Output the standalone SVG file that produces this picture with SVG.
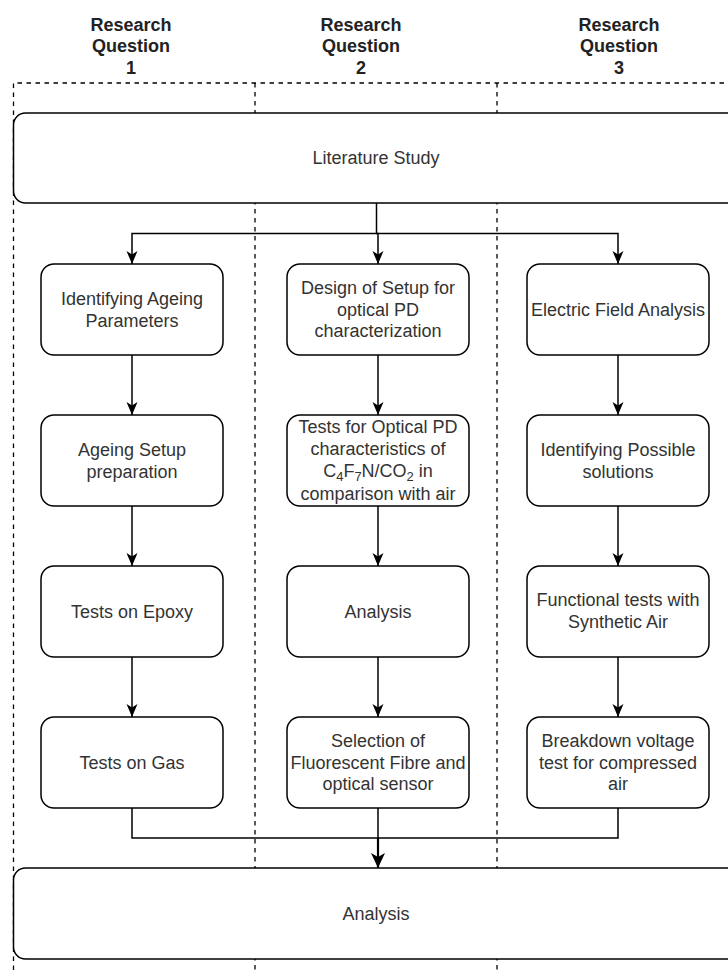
<svg xmlns="http://www.w3.org/2000/svg" width="728" height="970" viewBox="0 0 728 970">
<style>
.lane{fill:none;stroke:#000;stroke-width:1.3;stroke-dasharray:4.5 4.5}
.box{fill:#fff;stroke:#000;stroke-width:1.5}
.t{font-family:"Liberation Sans",Arial,Helvetica,sans-serif;font-size:18px;fill:#333;text-anchor:middle}
.h{font-family:"Liberation Sans",Arial,Helvetica,sans-serif;font-size:18px;font-weight:bold;fill:#222;text-anchor:middle}
.e{fill:none;stroke:#000;stroke-width:1.5}
</style>
<defs>
<marker id="arr" markerUnits="userSpaceOnUse" viewBox="0 -6 14 12" refX="13" refY="0" markerWidth="14" markerHeight="12" orient="auto">
<path d="M0,-5.5 L13,0 L0,5.5 L3.5,0 Z" fill="#000"/>
</marker>
<marker id="arrBig" markerUnits="userSpaceOnUse" viewBox="0 -8 16 16" refX="15" refY="0" markerWidth="16" markerHeight="16" orient="auto">
<path d="M0,-7 L15,0 L0,7 L4,0 Z" fill="#000"/>
</marker>
</defs>
<rect width="728" height="970" fill="#fff"/>
<g id="lanes">
<g id="lane1">
<text class="h" x="131" y="30.5">Research</text>
<text class="h" x="131" y="52">Question</text>
<text class="h" x="131" y="74">1</text>
</g>
<g id="lane2">
<text class="h" x="361" y="30.5">Research</text>
<text class="h" x="361" y="52">Question</text>
<text class="h" x="361" y="74">2</text>
</g>
<g id="lane3">
<text class="h" x="619" y="30.5">Research</text>
<text class="h" x="619" y="52">Question</text>
<text class="h" x="619" y="74">3</text>
</g>
<path class="lane" d="M13.5,970 V83 H740"/>
<path class="lane" d="M255,83 V970"/>
<path class="lane" d="M497,83 V970"/>
</g>
<g id="connectors">
<path class="e" d="M376.5,203 V233.5 H132 V264" marker-end="url(#arr)"/>
<path class="e" d="M376.5,233.5 H378 V264" marker-end="url(#arr)"/>
<path class="e" d="M376.5,233.5 H618 V264" marker-end="url(#arr)"/>
<path class="e" d="M132,355 V415" marker-end="url(#arr)"/>
<path class="e" d="M132,506 V566" marker-end="url(#arr)"/>
<path class="e" d="M132,657 V717" marker-end="url(#arr)"/>
<path class="e" d="M378,355 V415" marker-end="url(#arr)"/>
<path class="e" d="M378,506 V566" marker-end="url(#arr)"/>
<path class="e" d="M378,657 V717" marker-end="url(#arr)"/>
<path class="e" d="M618,355 V415" marker-end="url(#arr)"/>
<path class="e" d="M618,506 V566" marker-end="url(#arr)"/>
<path class="e" d="M618,657 V717" marker-end="url(#arr)"/>
<path class="e" d="M132,808 V838 H618 V808"/>
<path class="e" d="M378,808 V838"/>
<path class="e" style="stroke-width:2.2" d="M378,838 V868" marker-end="url(#arrBig)"/>
</g>
<g id="literature">
<rect class="box" x="13.5" y="113" width="740" height="90" rx="12"/>
<text class="t" x="376" y="164.3">Literature Study</text>
</g>
<g id="n1">
<rect class="box" x="41" y="264" width="182" height="91" rx="13"/>
<text class="t" x="132" y="305">Identifying Ageing</text>
<text class="t" x="132" y="326.6">Parameters</text>
</g>
<g id="n2">
<rect class="box" x="41" y="415" width="182" height="91" rx="13"/>
<text class="t" x="132" y="456.2">Ageing Setup</text>
<text class="t" x="132" y="477.8">preparation</text>
</g>
<g id="n3">
<rect class="box" x="41" y="566" width="182" height="91" rx="13"/>
<text class="t" x="132" y="617.8">Tests on Epoxy</text>
</g>
<g id="n4">
<rect class="box" x="41" y="717" width="182" height="91" rx="13"/>
<text class="t" x="132" y="768.8">Tests on Gas</text>
</g>
<g id="n5">
<rect class="box" x="287" y="264" width="182" height="91" rx="13"/>
<text class="t" x="378" y="294.2">Design of Setup for</text>
<text class="t" x="378" y="315.8">optical PD</text>
<text class="t" x="378" y="337.4">characterization</text>
</g>
<g id="n6">
<rect class="box" x="287" y="415" width="182" height="91" rx="13"/>
<text class="t" x="378" y="432.5">Tests for Optical PD</text>
<text class="t" x="378" y="454.5">characteristics of</text>
<text class="t" x="378" y="476.5">C<tspan font-size="13" dy="4">4</tspan><tspan dy="-4">F</tspan><tspan font-size="13" dy="4">7</tspan><tspan dy="-4">N/CO</tspan><tspan font-size="13" dy="4">2</tspan><tspan dy="-4"> in</tspan></text>
<text class="t" x="378" y="499.5">comparison with air</text>
</g>
<g id="n7">
<rect class="box" x="287" y="566" width="182" height="91" rx="13"/>
<text class="t" x="378" y="617.8">Analysis</text>
</g>
<g id="n8">
<rect class="box" x="287" y="717" width="182" height="91" rx="13"/>
<text class="t" x="378" y="747.2">Selection of</text>
<text class="t" x="378" y="768.8">Fluorescent Fibre and</text>
<text class="t" x="378" y="790.4">optical sensor</text>
</g>
<g id="n9">
<rect class="box" x="527" y="264" width="182" height="91" rx="13"/>
<text class="t" x="618" y="315.8">Electric Field Analysis</text>
</g>
<g id="n10">
<rect class="box" x="527" y="415" width="182" height="91" rx="13"/>
<text class="t" x="618" y="456.2">Identifying Possible</text>
<text class="t" x="618" y="477.8">solutions</text>
</g>
<g id="n11">
<rect class="box" x="527" y="566" width="182" height="91" rx="13"/>
<text class="t" x="618" y="606.4">Functional tests with</text>
<text class="t" x="618" y="628">Synthetic Air</text>
</g>
<g id="n12">
<rect class="box" x="527" y="717" width="182" height="91" rx="13"/>
<text class="t" x="618" y="747.2">Breakdown voltage</text>
<text class="t" x="618" y="768.8">test for compressed</text>
<text class="t" x="618" y="790.4">air</text>
</g>
<g id="analysis">
<rect class="box" x="13.5" y="868" width="740" height="91" rx="12"/>
<text class="t" x="376" y="919.8">Analysis</text>
</g>
</svg>
